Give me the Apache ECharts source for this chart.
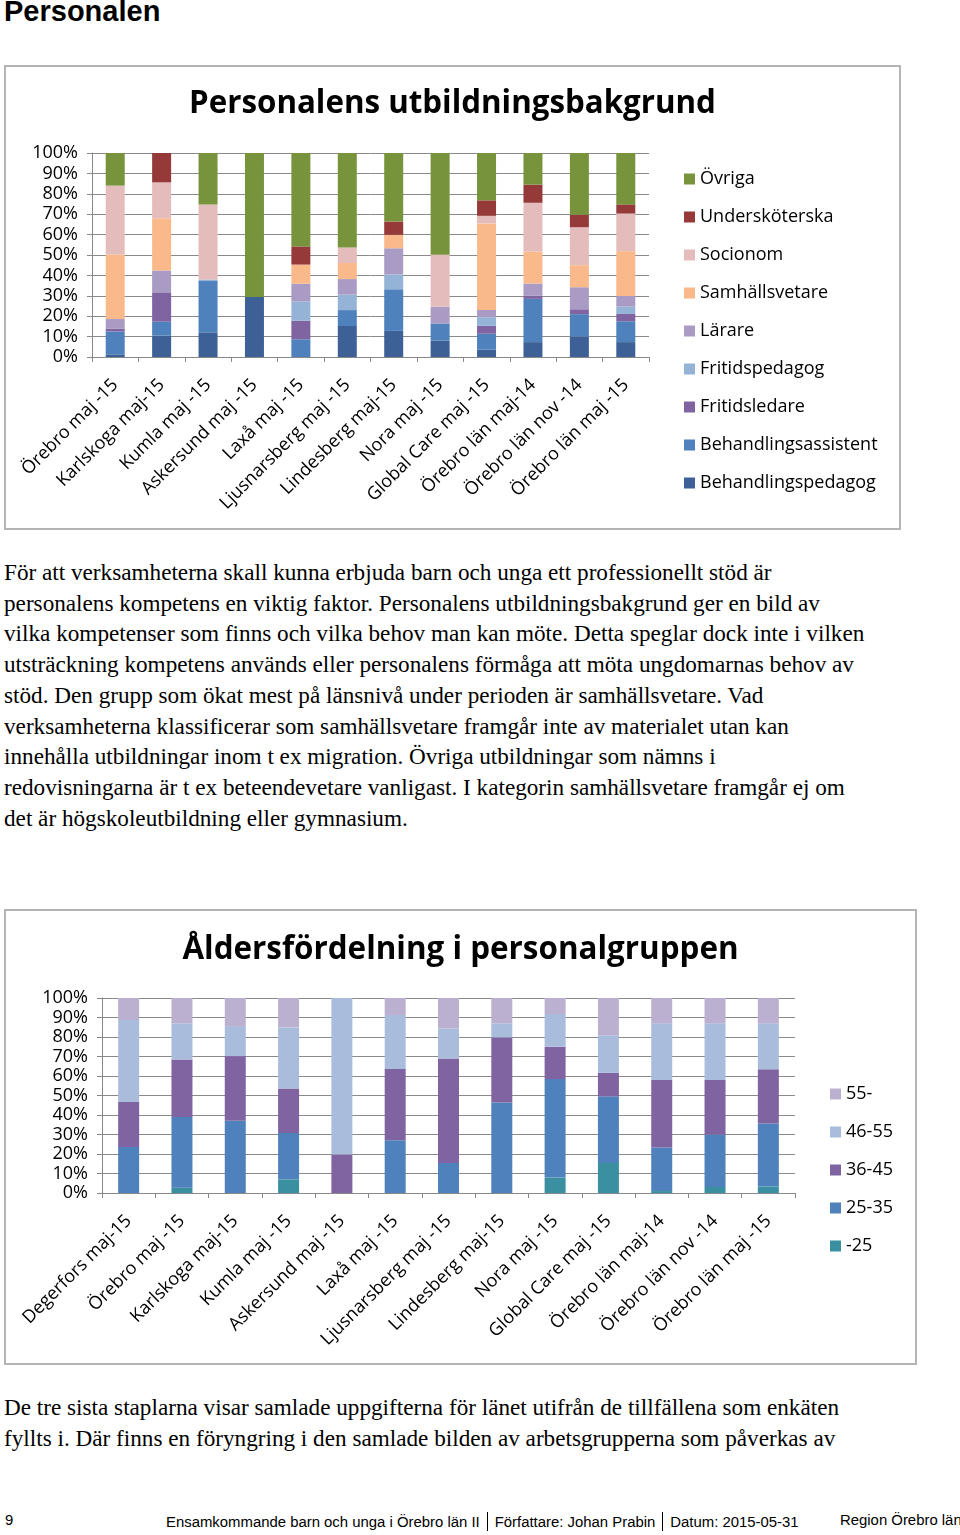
<!DOCTYPE html>
<html><head><meta charset="utf-8">
<script src="https://cdn.jsdelivr.net/npm/echarts@6/dist/echarts.min.js"></script>
<style>
html,body{margin:0;padding:0;background:#fff;}
body{width:960px;height:1535px;position:relative;overflow:hidden;}
.h1{position:absolute;left:4px;top:-5px;font-family:'Liberation Sans',Arial,sans-serif;font-weight:bold;font-size:29px;color:#000;}
.box{position:absolute;border:2px solid #b4b4b4;box-sizing:border-box;}
.p{position:absolute;left:4px;font-family:'Liberation Serif','Times New Roman',serif;font-size:23.2px;line-height:30.7px;color:#000;white-space:nowrap;}
.foot{position:absolute;top:1512px;font-family:'Liberation Sans Narrow','Liberation Sans',Arial,sans-serif;font-size:14.9px;color:#000;white-space:nowrap;}
.sep{display:inline-block;width:1px;height:19px;background:#000;vertical-align:-4px;margin:0 7px;}
</style></head>
<body>
<div class="h1">Personalen</div>
<div id="c1" class="box" style="left:4px;top:65px;width:897px;height:465px;"></div>
<div class="p" style="top:557px;">För att verksamheterna skall kunna erbjuda barn och unga ett professionellt stöd är<br>personalens kompetens en viktig faktor. Personalens utbildningsbakgrund ger en bild av<br>vilka kompetenser som finns och vilka behov man kan möte. Detta speglar dock inte i vilken<br>utsträckning kompetens används eller personalens förmåga att möta ungdomarnas behov av<br>stöd. Den grupp som ökat mest på länsnivå under perioden är samhällsvetare. Vad<br>verksamheterna klassificerar som samhällsvetare framgår inte av materialet utan kan<br>innehålla utbildningar inom t ex migration. Övriga utbildningar som nämns i<br>redovisningarna är t ex beteendevetare vanligast. I kategorin samhällsvetare framgår ej om<br>det är högskoleutbildning eller gymnasium.</div>
<div id="c2" class="box" style="left:4px;top:909px;width:913px;height:456px;"></div>
<div class="p" style="top:1392px;">De tre sista staplarna visar samlade uppgifterna för länet utifrån de tillfällena som enkäten<br>fyllts i. Där finns en föryngring i den samlade bilden av arbetsgrupperna som påverkas av</div>
<div class="foot" style="left:5px;">9</div>
<div class="foot" style="left:166px;">Ensamkommande barn och unga i Örebro län II<span class="sep"></span>Författare: Johan Prabin<span class="sep"></span>Datum: 2015-05-31</div>
<div class="foot" style="left:840px;">Region Örebro län</div>
<script>
// ---------- Chart 1 data ----------
const categories1 = ['Örebro maj -15','Karlskoga maj-15','Kumla maj -15','Askersund maj -15','Laxå maj -15','Ljusnarsberg maj -15','Lindesberg maj-15','Nora maj -15','Global Care maj -15','Örebro län maj-14','Örebro län nov -14','Örebro län maj -15'];
const behandlingspedagog   = [1.3, 10.5, 12.1, 29.4, 0, 15.2, 12.8, 8.1, 3.6, 7.3, 10, 7.3];
const behandlingsassistent = [11.2, 6.8, 25.1, 0, 8.7, 7.8, 20.4, 8.3, 7.8, 21.2, 11, 10.2];
const fritidsledare        = [1.3, 14.4, 0, 0, 9.1, 0, 0, 0, 3.9, 1.5, 2.4, 3.6];
const fritidspedagog       = [0, 0, 0.8, 0, 9.4, 7.6, 7.3, 0, 4.2, 0, 0, 3.6];
const larare               = [4.8, 10.7, 0, 0, 8.7, 7.6, 12.8, 8.3, 3.6, 6.0, 10.8, 5.2];
const samhallsvetare       = [31.6, 25.6, 0, 0, 9.4, 7.9, 6.6, 0, 42.4, 15.7, 10.8, 22];
const socionom             = [33.8, 17.6, 36.7, 0, 0, 7.6, 0, 25.4, 3.7, 23.9, 18.6, 18.4];
const underskoterska       = [0, 14.4, 0, 0, 8.9, 0, 6.5, 0, 7.6, 8.9, 6.1, 4.5];
const ovriga               = [16, 0, 25.3, 70.6, 45.8, 46.3, 33.6, 50, 23.2, 15.5, 30.3, 25.2];
const seriesNames1 = ['Behandlingspedagog','Behandlingsassistent','Fritidsledare','Fritidspedagog','Lärare','Samhällsvetare','Socionom','Undersköterska','Övriga'];
const seriesData1 = [behandlingspedagog, behandlingsassistent, fritidsledare, fritidspedagog, larare, samhallsvetare, socionom, underskoterska, ovriga];
const colors1 = ['#3d6197','#4f81bd','#8064a2','#95b3d7','#a99bc3','#fab98a','#e4bcbb','#953a38','#77933c'];

// ---------- Chart 2 data ----------
const categories2 = ['Degerfors maj-15','Örebro maj -15','Karlskoga maj-15','Kumla maj -15','Askersund maj -15','Laxå maj -15','Ljusnarsberg maj -15','Lindesberg maj-15','Nora maj -15','Global Care maj -15','Örebro län maj-14','Örebro län nov -14','Örebro län maj -15'];
const age_u25   = [0, 2.7, 0, 7, 0, 0, 0, 0, 7.9, 15.4, 1, 3.1, 3.4];
const age_25_35 = [23.6, 36.3, 37, 23.8, 0, 27.1, 15.4, 46.4, 50.5, 34.2, 22.3, 26.9, 32.2];
const age_36_45 = [23.1, 29.5, 33.2, 22.8, 19.7, 36.5, 53.6, 33.4, 16.6, 12, 34.6, 27.9, 27.9];
const age_46_55 = [42, 18.5, 15.4, 31.3, 80.3, 27.7, 15.4, 7.2, 16.8, 19.3, 29.1, 29.1, 23.5];
const age_55    = [11.3, 13, 14.4, 15.1, 0, 8.7, 15.6, 13, 8.2, 19.1, 13, 13, 13];
const seriesNames2 = ['-25','25-35','36-45','46-55','55-'];
const seriesData2 = [age_u25, age_25_35, age_36_45, age_46_55, age_55];
const colors2 = ['#3a8fa0','#4f81bd','#8064a2','#aabcdc','#bcb0d0'];

const yTicks = [0,10,20,30,40,50,60,70,80,90,100];
const FONT = "'Open Sans', 'Noto Sans', sans-serif";

function makeOption(cfg){
  return {
    animation:false,
    textStyle:{fontFamily:FONT},
    title:{text:cfg.title,left:'center',top:cfg.titleTop,
      textStyle:{fontFamily:FONT,fontWeight:'bold',fontSize:cfg.titleSize,color:'#000'}},
    legend:{orient:'vertical',left:cfg.legendLeft,top:cfg.legendTop,
      data:cfg.names.slice().reverse(),
      icon:'rect',itemWidth:11,itemHeight:11,itemGap:18,
      textStyle:{fontFamily:FONT,fontSize:cfg.legendFont,color:'#000',lineHeight:20}},
    grid:cfg.grid,
    xAxis:{type:'category',data:cfg.categories,
      axisLine:{lineStyle:{color:'#888',width:1}},
      axisTick:{show:true,length:5,lineStyle:{color:'#888'}},
      axisLabel:{rotate:45,fontSize:cfg.xFont,color:'#000',fontFamily:FONT,margin:25,interval:0}},
    yAxis:{type:'value',min:0,max:100,interval:10,
      axisLine:{show:true,lineStyle:{color:'#888',width:1}},
      axisTick:{show:true,length:5,lineStyle:{color:'#888'}},
      axisLabel:{formatter:v=>yTicks.includes(v)?v+'%':'',fontSize:cfg.yFont,color:'#000',fontFamily:FONT,margin:cfg.yMargin},
      splitLine:{lineStyle:{color:'#8a8a8a',width:1}}},
    series:cfg.names.map((n,i)=>({name:n,type:'bar',stack:'s',data:cfg.data[i],
      barWidth:cfg.barWidth,itemStyle:{color:cfg.colors[i]}}))
  };
}

const c1 = echarts.init(document.getElementById('c1'),null,{renderer:'canvas'});
c1.setOption(makeOption({
  title:'Personalens utbildningsbakgrund',titleTop:17,titleSize:31.3,
  categories:categories1,names:seriesNames1,data:seriesData1,colors:colors1,
  grid:{left:86,right:250,top:86,bottom:171,containLabel:false},
  legendLeft:673,legendTop:97,legendFont:18,xFont:18,yFont:18,yMargin:14,barWidth:19
}));
const c2 = echarts.init(document.getElementById('c2'),null,{renderer:'canvas'});
c2.setOption(makeOption({
  title:'Åldersfördelning i personalgruppen',titleTop:19,titleSize:31.4,
  categories:categories2,names:seriesNames2,data:seriesData2,colors:colors2,
  grid:{left:96,right:120,top:87,bottom:170,containLabel:false},
  legendLeft:819,legendTop:168,legendFont:18,xFont:18,yFont:18,yMargin:14,barWidth:21
}));
</script>
</body></html>
